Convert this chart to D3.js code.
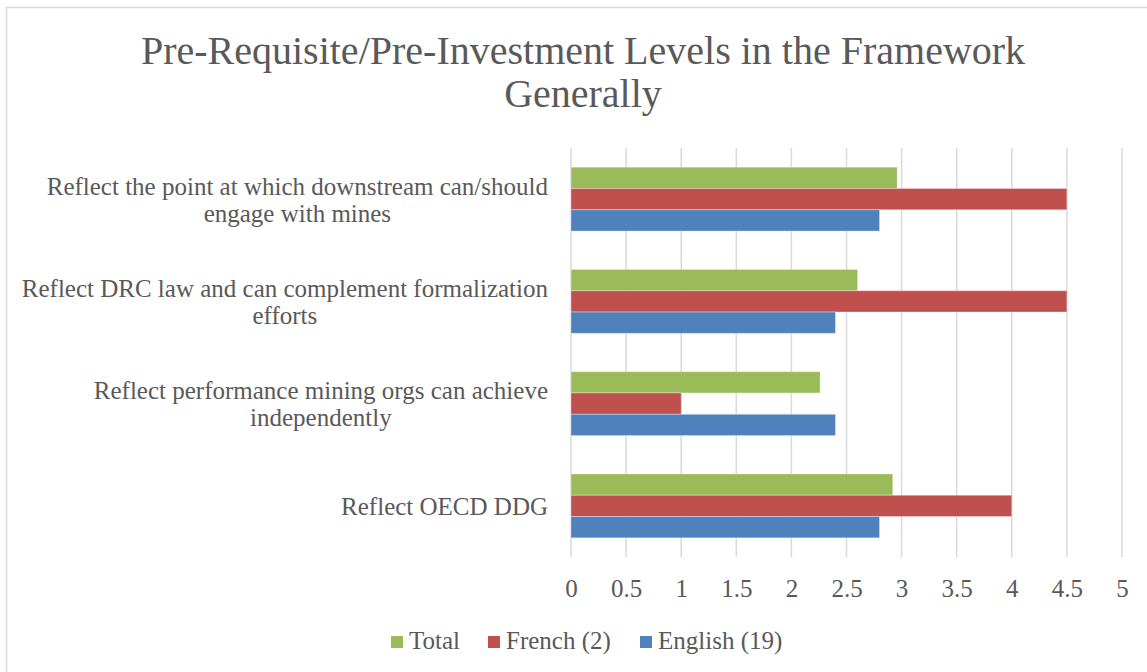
<!DOCTYPE html>
<html>
<meta charset="utf-8">
<style>
    body { margin: 0; background: #fff; }
    text { font-family: "Liberation Serif", "DejaVu Serif", serif; fill: #595959; }
    .grid line { stroke: #d9d9d9; stroke-width: 1.5; }
</style>
<body>
<script src="https://cdnjs.cloudflare.com/ajax/libs/d3/7.8.5/d3.min.js"></script>
<script>

    // data
    var categories = [
        ["Reflect the point at which downstream can/should", "engage with mines"],
        ["Reflect DRC law and can complement formalization", "efforts"],
        ["Reflect performance mining orgs can achieve", "independently"],
        ["Reflect OECD DDG"]
    ];
    var seriesNames = ["Total", "French (2)", "English (19)"];
    var seriesColors = ["#9bbb59", "#c0504d", "#4f81bd"];
    var total = [2.96, 2.60, 2.26, 2.92];
    var french = [4.5, 4.5, 1, 4];
    var english = [2.8, 2.4, 2.4, 2.8];
    var xTicks = [0, 0.5, 1, 1.5, 2, 2.5, 3, 3.5, 4, 4.5, 5];
    var titleLines = ["Pre-Requisite/Pre-Investment Levels in the Framework", "Generally"];

    var values = [total, french, english];

    var W = 1147, H = 672;
    var plot = {left: 571, right: 1122, top: 148, bottom: 557};
    var smallFont = "25px";

    var svg = d3.select("body").append("svg")
        .attr("width", W)
        .attr("height", H);

    // outer chart border (cropped at right/bottom)
    svg.append("rect")
        .attr("x", 6.5).attr("y", 7.5)
        .attr("width", W + 20).attr("height", H + 20)
        .attr("fill", "none")
        .attr("stroke", "#d9d9d9")
        .attr("stroke-width", 1.5);

    var x = d3.scaleLinear().domain([0, 5]).range([plot.left, plot.right]);

    var y = d3.scaleBand()
        .domain(d3.range(categories.length))
        .range([plot.top, plot.bottom])
        .paddingInner(0.375)
        .paddingOuter(0.1875);

    var ySub = d3.scaleBand()
        .domain(d3.range(seriesNames.length))
        .range([0, y.bandwidth()]);

    // title
    svg.append("text")
        .attr("text-anchor", "middle")
        .style("font-size", "40px")
        .selectAll("tspan")
        .data(titleLines)
        .enter().append("tspan")
        .attr("x", 583)
        .attr("y", function(d, i) { return 64 + i * 43; })
        .text(function(d) { return d; });

    // gridlines
    svg.append("g")
        .attr("class", "grid")
        .selectAll("line")
        .data(xTicks)
        .enter().append("line")
        .attr("x1", function(d) { return x(d); })
        .attr("x2", function(d) { return x(d); })
        .attr("y1", plot.top)
        .attr("y2", plot.bottom);

    // x tick labels
    var xAxis = d3.axisBottom(x).tickValues(xTicks).tickSize(0).tickPadding(0)
        .tickFormat(d3.format("~g"));
    var gx = svg.append("g")
        .attr("transform", "translate(0," + 597 + ")")
        .call(xAxis);
    gx.select(".domain").remove();
    gx.selectAll("text")
        .attr("y", 0).attr("dy", 0)
        .attr("fill", "#595959")
        .style("font-family", "'Liberation Serif', serif")
        .style("font-size", smallFont);

    // bars
    var groups = svg.append("g").selectAll("g")
        .data(categories.map(function(c, i) { return i; }))
        .enter().append("g")
        .attr("transform", function(i) { return "translate(0," + y(i) + ")"; });

    groups.selectAll("rect")
        .data(function(i) { return values.map(function(v, s) { return {s: s, v: v[i]}; }); })
        .enter().append("rect")
        .attr("x", x(0))
        .attr("y", function(d) { return ySub(d.s); })
        .attr("width", function(d) { return x(d.v) - x(0); })
        .attr("height", ySub.bandwidth())
        .attr("fill", function(d) { return seriesColors[d.s]; })
        .attr("stroke", "rgba(255,255,255,0.35)")
        .attr("stroke-width", 1);

    // category labels, centred block, right edge at 548
    categories.forEach(function(lines, i) {
        var cy = y(i) + y.bandwidth() / 2;
        var t = svg.append("text")
            .attr("text-anchor", "middle")
            .style("font-size", smallFont);
        var tspans = t.selectAll("tspan")
            .data(lines)
            .enter().append("tspan")
            .attr("y", function(d, k) { return cy + 9 - (lines.length - 1) * 13.5 + k * 27; })
            .text(function(d) { return d; });
        var widest = 0;
        tspans.each(function() { widest = Math.max(widest, this.getComputedTextLength()); });
        tspans.attr("x", 548 - widest / 2);
    });

    // legend
    var legendX = [391, 488, 640];
    var legend = svg.append("g").selectAll("g")
        .data(seriesNames)
        .enter().append("g")
        .attr("transform", function(d, i) { return "translate(" + legendX[i] + ",636)"; });
    legend.append("rect")
        .attr("width", 12).attr("height", 12)
        .attr("fill", function(d, i) { return seriesColors[i]; });
    legend.append("text")
        .attr("x", 18).attr("y", 13)
        .style("font-size", smallFont)
        .text(function(d) { return d; });

</script>
</body>
</html>
